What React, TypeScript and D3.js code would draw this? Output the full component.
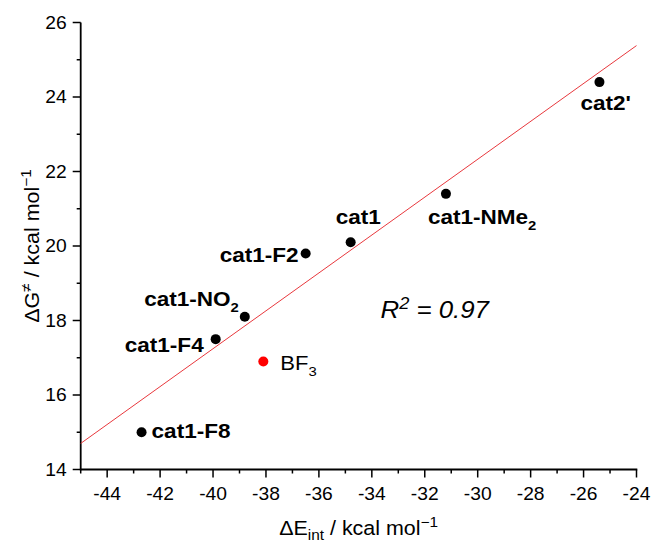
import React, { useEffect, useRef } from 'react';
import * as d3 from 'd3';

// catalyst names, interaction energies (x) and barriers (y)
const names = ['cat2\'', 'cat1-NMe2', 'cat1', 'cat1-F2', 'cat1-NO2', 'cat1-F4', 'BF3', 'cat1-F8'];
const deltaE = [-25.4, -31.2, -34.8, -36.5, -38.8, -39.9, -38.1, -42.7];
const deltaG = [24.4, 21.4, 20.1, 19.8, 18.1, 17.5, 16.9, 15.0];

// linear fit
const fitX = [-45, -24];
const fitY = [14.7, 25.38];

const xMajor = [-44, -42, -40, -38, -36, -34, -32, -30, -28, -26, -24];
const yMajor = [14, 16, 18, 20, 22, 24, 26];

const W = 653;
const H = 545;
const STRETCH = 1.1;
const FONT = '"Liberation Sans", Arial, sans-serif';

// label layout: main text, subscript, anchor, offset from the point
const labelLayout: Record<string, { main: string; sub?: string; anchor: string; dx: number; dy: number; bold: boolean }> = {
  "cat2'": { main: "cat2'", anchor: 'start', dx: -19, dy: 28, bold: true },
  'cat1-NMe2': { main: 'cat1-NMe', sub: '2', anchor: 'start', dx: -18, dy: 30, bold: true },
  cat1: { main: 'cat1', anchor: 'start', dx: -15, dy: -18, bold: true },
  'cat1-F2': { main: 'cat1-F2', anchor: 'end', dx: -7, dy: 9, bold: true },
  'cat1-NO2': { main: 'cat1-NO', sub: '2', anchor: 'end', dx: -6, dy: -11, bold: true },
  'cat1-F4': { main: 'cat1-F4', anchor: 'end', dx: -12, dy: 13, bold: true },
  BF3: { main: 'BF', sub: '3', anchor: 'start', dx: 17, dy: 9, bold: false },
  'cat1-F8': { main: 'cat1-F8', anchor: 'start', dx: 10, dy: 6, bold: true },
};

export default function App() {
  const svgRef = useRef<SVGSVGElement>(null);

  useEffect(() => {
    if (!svgRef.current) return;
    const svg = d3.select(svgRef.current);
    svg.selectAll('*').remove();

    const x = d3.scaleLinear().domain([-45, -24]).range([80.7, 636.5]);
    const y = d3.scaleLinear().domain([14, 26]).range([469.5, 22.5]);

    const g = svg.append('g');

    // X axis
    const xAxis = g.append('g').attr('transform', `translate(0,${y(14)})`);
    xAxis.append('line').attr('x1', x(-45) - 0.8).attr('x2', x(-24) + 0.8).attr('stroke', '#000').attr('stroke-width', 1.8);
    d3.range(-45, -23, 1).forEach((v) => {
      const major = xMajor.includes(v);
      xAxis.append('line')
        .attr('x1', x(v)).attr('x2', x(v))
        .attr('y1', 0).attr('y2', major ? 8 : 4)
        .attr('stroke', '#000').attr('stroke-width', 1.5);
    });
    xMajor.forEach((v) => {
      xAxis.append('text')
        .attr('transform', `translate(${x(v)},30) scale(${STRETCH},1)`)
        .attr('text-anchor', 'middle')
        .style('font-family', FONT).style('font-size', '17.5px')
        .text(String(v));
    });

    // Y axis
    const yAxis = g.append('g').attr('transform', `translate(${x(-45)},0)`);
    yAxis.append('line').attr('y1', y(14) + 0.8).attr('y2', y(26)).attr('stroke', '#000').attr('stroke-width', 1.8);
    d3.range(14, 26.5, 1).forEach((v) => {
      const major = yMajor.includes(v);
      yAxis.append('line')
        .attr('y1', y(v)).attr('y2', y(v))
        .attr('x1', 0).attr('x2', major ? -8 : -4)
        .attr('stroke', '#000').attr('stroke-width', 1.5);
    });
    yMajor.forEach((v) => {
      yAxis.append('text')
        .attr('transform', `translate(-14,${y(v) + 6}) scale(${STRETCH},1)`)
        .attr('text-anchor', 'end')
        .style('font-family', FONT).style('font-size', '17.5px')
        .text(String(v));
    });

    // Fit line
    g.append('line')
      .attr('x1', x(fitX[0])).attr('y1', y(fitY[0]))
      .attr('x2', x(fitX[1])).attr('y2', y(fitY[1]))
      .attr('stroke', '#e8383d').attr('stroke-width', 1);

    // Points + labels
    names.forEach((n, i) => {
      const px = x(deltaE[i]);
      const py = y(deltaG[i]);
      g.append('circle')
        .attr('cx', px).attr('cy', py).attr('r', 5)
        .attr('fill', n === 'BF3' ? '#ff0000' : '#000');

      const l = labelLayout[n];
      const t = g.append('text')
        .attr('transform', `translate(${px + l.dx},${py + l.dy}) scale(${STRETCH},1)`)
        .attr('text-anchor', l.anchor)
        .style('font-family', FONT)
        .style('font-size', l.bold ? '20.5px' : '20px')
        .style('font-weight', l.bold ? 'bold' : 'normal');
      t.append('tspan').text(l.main);
      if (l.sub) {
        t.append('tspan').attr('dy', 6).style('font-size', '13.5px').text(l.sub);
      }
    });

    // R^2 annotation
    const r2 = g.append('text')
      .attr('transform', `translate(380.5,318) scale(${STRETCH},1)`)
      .style('font-family', FONT).style('font-size', '23.5px').style('font-style', 'italic');
    r2.append('tspan').text('R');
    r2.append('tspan').attr('dy', -9).style('font-size', '16.5px').text('2');
    r2.append('tspan').attr('dy', 9).text(' = 0.97');

    // X title
    const xt = g.append('text')
      .attr('transform', `translate(${(x(-45) + x(-24)) / 2},535) scale(${STRETCH},1)`)
      .attr('text-anchor', 'middle')
      .style('font-family', FONT).style('font-size', '19.5px');
    xt.append('tspan').text('ΔE');
    xt.append('tspan').attr('dy', 5).style('font-size', '14px').text('int');
    xt.append('tspan').attr('dy', -5).text(' / kcal mol');
    xt.append('tspan').attr('dy', -8).style('font-size', '14px').text('−1');

    // Y title
    const yt = g.append('text')
      .attr('transform', `translate(39,${(y(14) + y(26)) / 2}) rotate(-90) scale(${STRETCH},1)`)
      .attr('text-anchor', 'middle')
      .style('font-family', FONT).style('font-size', '19.5px');
    yt.append('tspan').text('ΔG');
    yt.append('tspan').attr('dy', -8).style('font-size', '14px').text('≠');
    yt.append('tspan').attr('dy', 8).text(' / kcal mol');
    yt.append('tspan').attr('dy', -8).style('font-size', '14px').text('−1');
  }, []);

  return (
    <svg
      ref={svgRef}
      width={W}
      height={H}
      style={{ position: 'absolute', left: 0, top: 0, background: '#fff' }}
    />
  );
}
